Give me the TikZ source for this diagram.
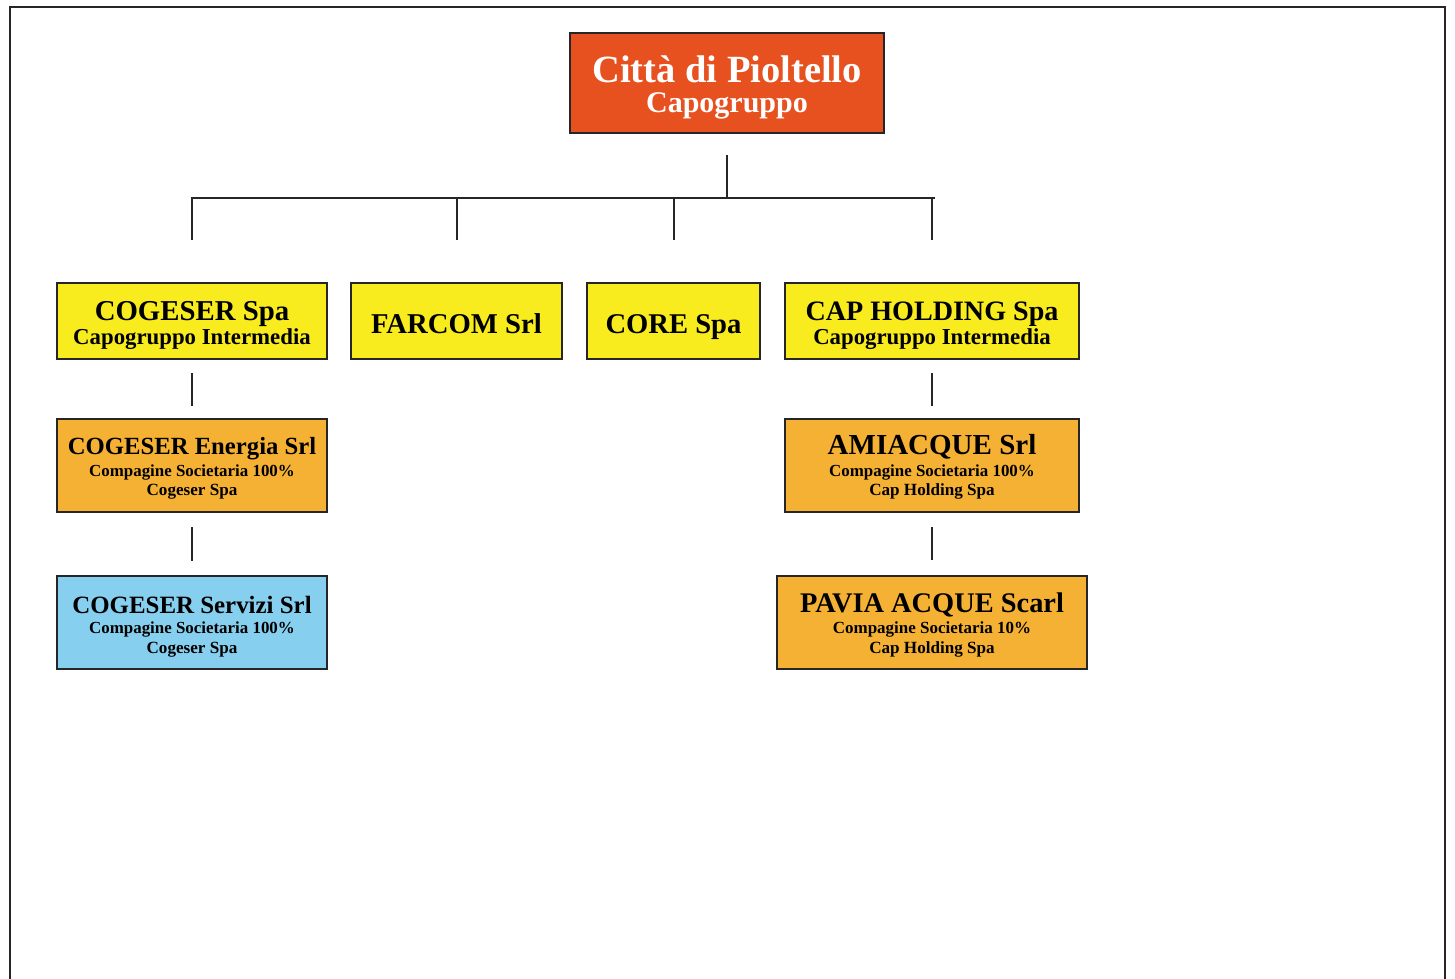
\documentclass[tikz,border=0pt]{standalone}
\usepackage{fontspec}
\setmainfont{Liberation Serif}
\definecolor{topred}{RGB}{231,81,31}
\definecolor{yel}{RGB}{248,236,30}
\definecolor{org}{RGB}{245,177,52}
\definecolor{sky}{RGB}{135,207,238}
\begin{document}
\begin{tikzpicture}[x=1pt,y=-1pt,
  box/.style={draw=black!85,line width=1.8pt,inner sep=0pt},
  conn/.style={draw=black!85,line width=2pt},
  lbl/.style={anchor=base,inner sep=0pt,font=\bfseries}]
\useasboundingbox (0,0) rectangle (1455,978);
\fill[white] (0,0) rectangle (1455,978);
% frame
\draw[line width=2.6pt,black!85] (10,990) -- (10,7) -- (1445,7) -- (1445,990);
% boxes
\path[box,fill=topred] (570,33) rectangle (884,133) node[pos=.5] (top) {};
\path[box,fill=yel] (57,283) rectangle (327,359) node[pos=.5] (cogspa) {};
\path[box,fill=yel] (351,283) rectangle (562,359) node[pos=.5] (farcom) {};
\path[box,fill=yel] (587,283) rectangle (760,359) node[pos=.5] (core) {};
\path[box,fill=yel] (785,283) rectangle (1079,359) node[pos=.5] (cap) {};
\path[box,fill=org] (57,419) rectangle (327,512) node[pos=.5] (energia) {};
\path[box,fill=org] (785,419) rectangle (1079,512) node[pos=.5] (amiacque) {};
\path[box,fill=sky] (57,576) rectangle (327,669) node[pos=.5] (servizi) {};
\path[box,fill=org] (777,576) rectangle (1087,669) node[pos=.5] (pavia) {};
% labels
\node[lbl,text=white,font=\bfseries\fontsize{38.5}{40}\selectfont] (t1) at (727,82) {Città di Pioltello};
\node[lbl,text=white,font=\bfseries\fontsize{30}{32}\selectfont] (t2) at (727,112) {Capogruppo};
\node[lbl,font=\bfseries\fontsize{28.8}{30}\selectfont] (c1) at (192,320) {COGESER Spa};
\node[lbl,font=\bfseries\fontsize{22.8}{24}\selectfont] (c2) at (192,344) {Capogruppo Intermedia};
\node[lbl,font=\bfseries\fontsize{28.7}{30}\selectfont] (f1) at (456.5,333) {FARCOM Srl};
\node[lbl,font=\bfseries\fontsize{28.6}{30}\selectfont] (r1) at (673.5,333) {CORE Spa};
\node[lbl,font=\bfseries\fontsize{28.1}{30}\selectfont] (h1) at (932,320) {CAP HOLDING Spa};
\node[lbl,font=\bfseries\fontsize{22.8}{24}\selectfont] (h2) at (932,344) {Capogruppo Intermedia};
\node[lbl,font=\bfseries\fontsize{24.7}{26}\selectfont] (e1) at (192,454) {COGESER Energia Srl};
\node[lbl,font=\bfseries\fontsize{16.9}{18}\selectfont] (e2) at (192,476) {Compagine Societaria 100\%};
\node[lbl,font=\bfseries\fontsize{17.1}{18}\selectfont] (e3) at (192,495) {Cogeser Spa};
\node[lbl,font=\bfseries\fontsize{29}{30}\selectfont] (a1) at (932,454) {AMIACQUE Srl};
\node[lbl,font=\bfseries\fontsize{16.9}{18}\selectfont] (a2) at (932,476) {Compagine Societaria 100\%};
\node[lbl,font=\bfseries\fontsize{17.1}{18}\selectfont] (a3) at (932,495) {Cap Holding Spa};
\node[lbl,font=\bfseries\fontsize{24.9}{26}\selectfont] (s1) at (192,613) {COGESER Servizi Srl};
\node[lbl,font=\bfseries\fontsize{16.9}{18}\selectfont] (s2) at (192,633) {Compagine Societaria 100\%};
\node[lbl,font=\bfseries\fontsize{17.1}{18}\selectfont] (s3) at (192,653) {Cogeser Spa};
\node[lbl,font=\bfseries\fontsize{28.4}{30}\selectfont] (p1) at (932,612) {PAVIA ACQUE Scarl};
\node[lbl,font=\bfseries\fontsize{17}{18}\selectfont] (p2) at (932,633) {Compagine Societaria 10\%};
\node[lbl,font=\bfseries\fontsize{17.1}{18}\selectfont] (p3) at (932,653) {Cap Holding Spa};
% connectors
\coordinate (hl) at (191,198);
\coordinate (hr) at (935,198);
\draw[conn] ([yshift=-22pt]top.center |- 0,133) -- (top.center |- hl);
\draw[conn] (hl) -- (hr);
\draw[conn] (cogspa.center |- hl) -- ++(0,42);
\draw[conn] (farcom.center |- hl) -- ++(0,42);
\draw[conn] (core.center |- hl) -- ++(0,42);
\draw[conn] (cap.center |- hl) -- ++(0,42);
\draw[conn] ([yshift=-14pt]cogspa.center |- 0,359) -- ++(0,33);
\draw[conn] ([yshift=-14pt]cap.center |- 0,359) -- ++(0,33);
\draw[conn] ([yshift=-15pt]energia.center |- 0,512) -- ++(0,34);
\draw[conn] ([yshift=-15pt]amiacque.center |- 0,512) -- ++(0,33);
\end{tikzpicture}
\end{document}
